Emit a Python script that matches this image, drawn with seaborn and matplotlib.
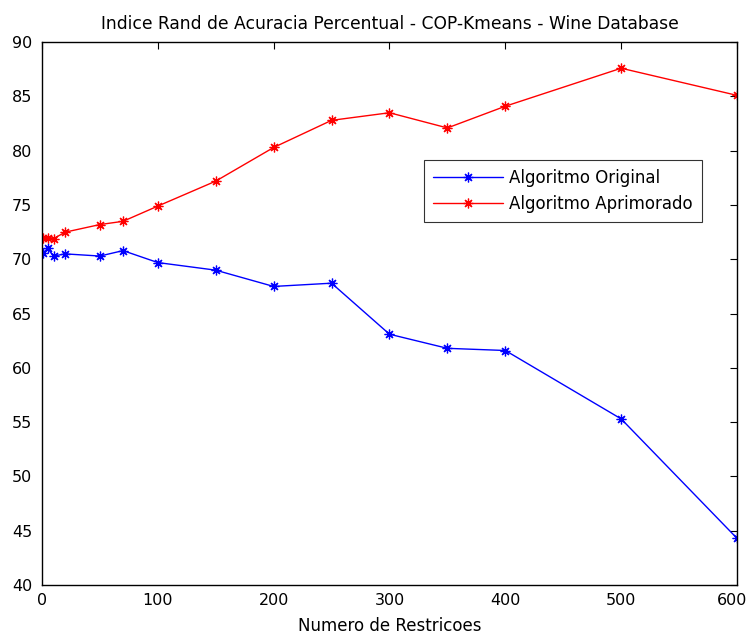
import matplotlib
matplotlib.use("Agg")
import matplotlib.pyplot as plt
import matplotlib.transforms as mtransforms
import seaborn as sns
import pandas as pd

restricoes = [1, 5, 10, 20, 50, 70, 100, 150, 200, 250, 300, 350, 400, 500, 600]
original = [70.6, 71.0, 70.3, 70.5, 70.3, 70.8, 69.7, 69.0, 67.5, 67.8, 63.1, 61.8, 61.6, 55.3, 44.3]
aprimorado = [72.0, 72.0, 71.9, 72.5, 73.2, 73.5, 74.9, 77.2, 80.3, 82.8, 83.5, 82.1, 84.1, 87.6, 85.1]
series_names = ["Algoritmo Original", "Algoritmo Aprimorado"]

df = pd.DataFrame({
    "x": restricoes * 2,
    "y": original + aprimorado,
    "serie": [series_names[0]] * len(restricoes) + [series_names[1]] * len(restricoes),
})

sns.set_style("white")
plt.rcParams['font.family'] = ['DejaVu Sans']
plt.rcParams['text.color'] = 'black'
plt.rcParams['axes.labelcolor'] = 'black'

fig = plt.figure(figsize=(7.49, 6.39), dpi=100)
ax = fig.add_axes([0.056, 0.0845, 0.928, 0.8495])

sns.lineplot(data=df, x="x", y="y", hue="serie", palette=["#0000ff", "#ff0000"],
             marker=(8, 2, 0), markersize=7, markeredgewidth=0.9, linewidth=1.0,
             ax=ax, legend=True)
for ln in ax.lines:
    ln.set_markeredgecolor(ln.get_color())
    ln.set_markerfacecolor(ln.get_color())

ax.set_xlim(0, 600)
ax.set_ylim(40, 90)
ax.set_xticks(range(0, 601, 100))
ax.set_yticks(range(40, 91, 5))
ax.tick_params(axis="x", pad=6)
ax.tick_params(axis="y", pad=7)
ax.tick_params(direction="in", top=True, right=True, length=5, width=0.8,
               labelsize=11.5, colors="black")
for s in ax.spines.values():
    s.set_color("black")
    s.set_linewidth(1.0)
ax.set_xlabel("Numero de Restricoes", fontsize=12, labelpad=6, color="black")
ax.set_ylabel("")
ax.set_title("Indice Rand de Acuracia Percentual - COP-Kmeans - Wine Database",
             fontsize=12.3, pad=9.5, color="black")

# keep the last x tick label inside the figure
last = ax.get_xticklabels()[-1]
last.set_transform(last.get_transform() +
                   mtransforms.ScaledTranslation(-0.05, 0, fig.dpi_scale_trans))

leg = ax.legend(loc="upper right", bbox_to_anchor=(0.95, 0.783), fontsize=12,
                frameon=True, fancybox=False, edgecolor="black", borderpad=0.55,
                handlelength=4.2, handletextpad=0.4, labelspacing=0.45,
                borderaxespad=0)
leg.get_frame().set_linewidth(0.8)
for h in leg.legend_handles:
    h.set_markeredgecolor(h.get_color())
    h.set_markerfacecolor(h.get_color())
for t in leg.get_texts():
    t.set_color("black")

fig.savefig("out.png", dpi=100)
